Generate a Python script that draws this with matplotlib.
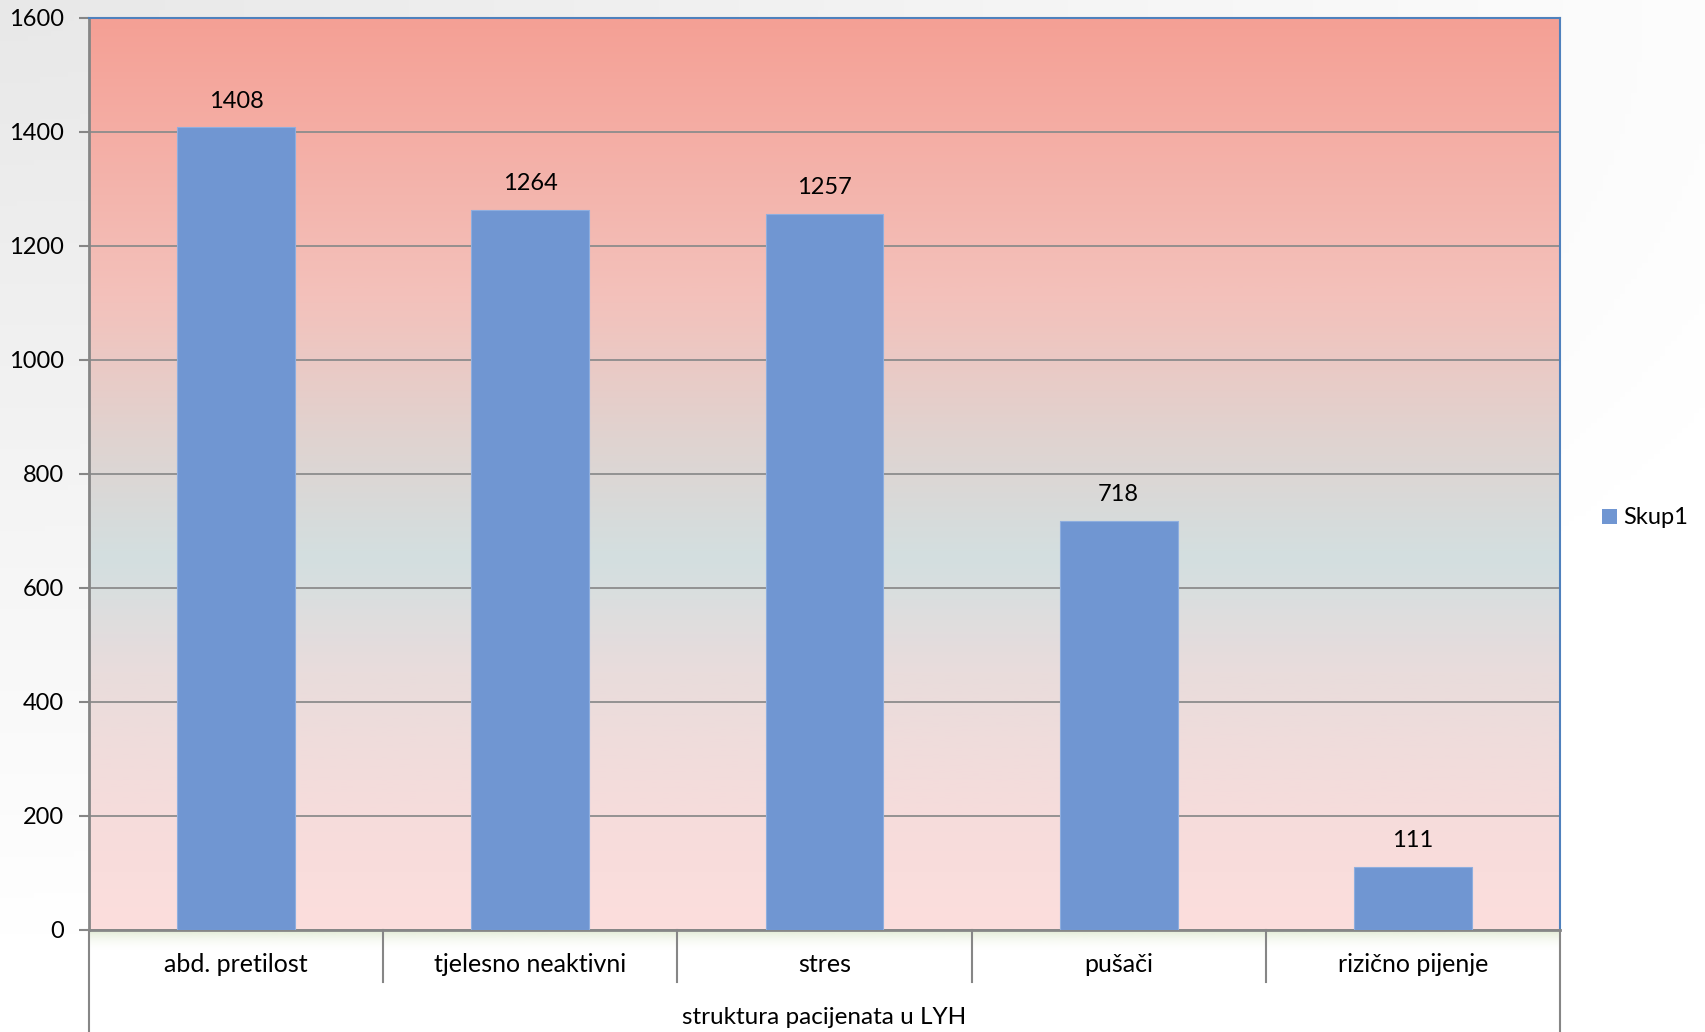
import numpy as np
import matplotlib
matplotlib.use("Agg")
import matplotlib.pyplot as plt
from matplotlib.colors import LinearSegmentedColormap, to_rgb
from matplotlib.patches import Rectangle

plt.rcParams['font.family'] = ['Lato', 'DejaVu Sans']

# Podaci
kategorije = ["abd. pretilost", "tjelesno neaktivni", "stres", "pušači", "rizično pijenje"]
vrijednosti = [1408, 1264, 1257, 718, 111]
naziv_serije = "Skup1"
naziv_osi = "struktura pacijenata u LYH"
y_ticks = [0, 200, 400, 600, 800, 1000, 1200, 1400, 1600]

W, H = 1705, 1032
fig = plt.figure(figsize=(W / 100, H / 100), dpi=100)

# pozadina slike (svijetlosivi gradijent)
bg = fig.add_axes([0, 0, 1, 1], zorder=-10)
yy, xx = np.mgrid[0:1:200j, 0:1:300j]
d = np.clip(np.sqrt((xx * 0.9) ** 2 + ((1 - yy) * 1.1) ** 2), 0, 1)
bgcol = 0.91 + 0.09 * d
bg.imshow(np.dstack([bgcol, bgcol, bgcol]), extent=[0, 1, 0, 1], aspect="auto", origin="lower")
bg.axis("off")

left, right = 89 / W, 1560 / W
bottom, top = 1 - 930 / H, 1 - 18 / H
ax = fig.add_axes([left, bottom, right - left, top - bottom])

# gradijent u podrucju grafa
stops = [(0.0, "#fcdedd"), (200 / 1600, "#f6dcdb"), (450 / 1600, "#e9dcdc"),
         (650 / 1600, "#d3dfe0"), (850 / 1600, "#dfd4d1"), (1100 / 1600, "#f3c2bc"),
         (1.0, "#f5a095")]
cmap = LinearSegmentedColormap.from_list("grad", stops)
grad = np.linspace(0, 1, 400).reshape(-1, 1)
ax.imshow(grad, cmap=cmap, extent=[-0.5, 4.5, 0, 1600], aspect="auto", origin="lower", zorder=0)

x = np.arange(len(kategorije))
ax.set_xlim(-0.5, 4.5)
ax.set_ylim(0, 1600)
ax.set_yticks(y_ticks)
ax.yaxis.grid(True, color="#8c8c8c", lw=1.3, zorder=1)
ax.set_axisbelow(True)

bars = ax.bar(x, vrijednosti, width=0.4, color="#7096d2", edgecolor="#8eaedf", lw=0.8, zorder=3,
              label=naziv_serije)
for xi, v in zip(x, vrijednosti):
    ax.annotate(str(v), (xi, v), xytext=(0, 11), textcoords="offset points",
                ha="center", va="bottom", fontsize=17, color="black")

ax.set_xticks([])
ax.tick_params(axis="y", labelsize=17, length=7, width=1.5, color="#868686", pad=11)
for s in ["left", "bottom"]:
    ax.spines[s].set_color("#868686")
    ax.spines[s].set_linewidth(2)
for s in ["top", "right"]:
    ax.spines[s].set_color("#4f81bd")
    ax.spines[s].set_linewidth(1.5)

# visestruka os kategorija
ah = (930 - 18)
trans = ax.get_xaxis_transform()
for b in np.arange(0.5, 4.5, 1):
    ax.plot([b, b], [0, -52 / ah], transform=trans, color="#868686", lw=1.5, clip_on=False)
for b in [-0.5, 4.5]:
    ax.plot([b, b], [0, -102 / ah], transform=trans, color="#868686", lw=1.5, clip_on=False)
for xi, k in zip(x, kategorije):
    ax.text(xi, -34 / ah, k, transform=trans, ha="center", va="center", fontsize=18)
ax.text(0.5, -88 / ah, naziv_osi, transform=ax.transAxes, ha="center", va="center", fontsize=17.5)

# zelenkasta sjena ispod osi
sh = fig.add_axes([left, 1 - 952 / H, right - left, 21 / H], zorder=-5)
rgba = np.zeros((50, 1, 4))
rgba[..., :3] = np.array(to_rgb("#e2ebd3"))
rgba[..., 3] = np.linspace(0, 1, 50).reshape(-1, 1) ** 2
sh.imshow(rgba, extent=[0, 1, 0, 1], aspect="auto", origin="lower")
sh.axis("off")

# legenda
fig.patches.append(Rectangle((1602 / W, 1 - 524 / H), 15 / W, 15 / H, transform=fig.transFigure,
                             facecolor="#7096d2", edgecolor="none"))
fig.text(1623 / W, 1 - 517 / H, naziv_serije, fontsize=17, va="center", ha="left")

fig.savefig("out.png", dpi=100)
plt.close(fig)
